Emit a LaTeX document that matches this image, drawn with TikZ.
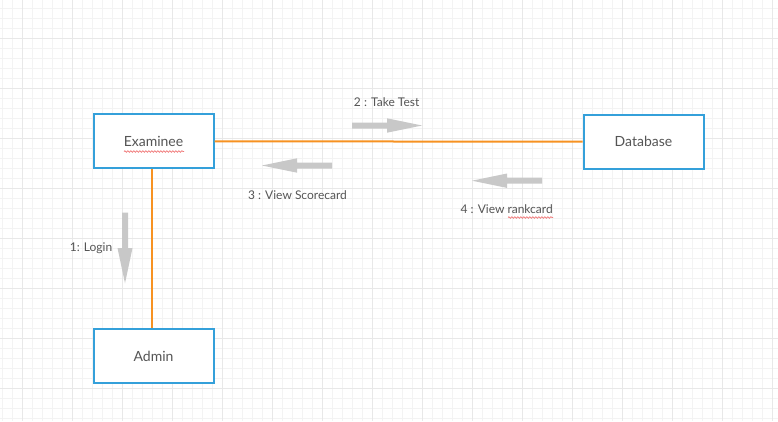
\documentclass[tikz,border=0pt]{standalone}
\usepackage{fontspec}
\setmainfont{Lato}
\usepackage{tikz}
\usetikzlibrary{decorations.pathmorphing}
\definecolor{boxblue}{RGB}{52,160,218}
\definecolor{linkorange}{RGB}{247,146,34}
\definecolor{arrowgrey}{RGB}{200,200,200}
\definecolor{textgrey}{RGB}{85,85,85}
\definecolor{gridminor}{RGB}{243,243,243}
\definecolor{gridmajor}{RGB}{232,232,232}
\definecolor{spellred}{RGB}{240,120,120}
\tikzset{font=\fontsize{12}{14}\selectfont, text=textgrey}
\tikzset{every node/.append style={transform shape=false}}
\tikzset{
  obj/.style={draw=boxblue, line width=2pt, fill=white, minimum width=120pt,
    minimum height=54pt, inner sep=0pt, font=\fontsize{14}{16}\selectfont},
  link/.style={draw=linkorange, line width=2pt},
  msg/.style={fill=arrowgrey},
  squiggle/.style={draw=spellred, line width=0.7pt, decorate,
    decoration={snake, amplitude=0.8pt, segment length=3pt}}
}

\begin{document}
\begin{tikzpicture}[x=1pt,y=-1pt]
\useasboundingbox (0,0) rectangle (778,421);
\fill[white] (0,0) rectangle (778,421);
% grid
\foreach \x in {2.7,12.7,...,778}
\draw[gridminor, line width=0.8pt] ({\x},0) -- ({\x},421);
\foreach \y in {8.3,18.3,...,421}
\draw[gridminor, line width=0.8pt] (0,{\y}) -- (778,{\y});
\foreach \x in {22.7,72.7,...,778}
\draw[gridmajor, line width=0.8pt] ({\x},0) -- ({\x},421);
\foreach \y in {38.3,88.3,...,421}
\draw[gridmajor, line width=0.8pt] (0,{\y}) -- (778,{\y});
% objects
\node[obj] (exam) at (153.5,141.3) {Examinee};
\node[obj] (db) at (643.5,141.7) {Database};
\node[obj] (admin) at (153.5,356.3) {Admin};
\draw[link] (exam.east) -- (db.west);
\draw[link] ([xshift=-1.5pt]exam.south) -- ([xshift=-1.5pt]admin.north);
% messages
\foreach \xa/\xb/\y in {352/422/125.5, 332/262/165.5, 542/472/180.7}
{
\pgfmathsetmacro\xm{(\xa+\xb)/2}
\fill[msg] (\xa,{\y-3}) -- (\xm,{\y-3}) -- (\xm,{\y-7.2}) -- (\xb,{\y})
  -- (\xm,{\y+7.2}) -- (\xm,{\y+3}) -- (\xa,{\y+3}) -- cycle;
}
\fill[msg] (122,212.7) -- (128,212.7) -- (128,248) -- (132.5,248) -- (125,283.3)
  -- (117.5,248) -- (122,248) -- cycle;
\node (take) at (386.7,102) {2 : Take Test};
\node (score) at (297.5,195) {3 : View Scorecard};
\node (rank) at (506.7,209.3) {4 : View rankcard};
\node (login) at (91,248.3) {1: Login};
\draw[squiggle] (124,151.5) -- (184,151.5);
\draw[squiggle] (508,217.5) -- (553,217.5);
\end{tikzpicture}
\end{document}
